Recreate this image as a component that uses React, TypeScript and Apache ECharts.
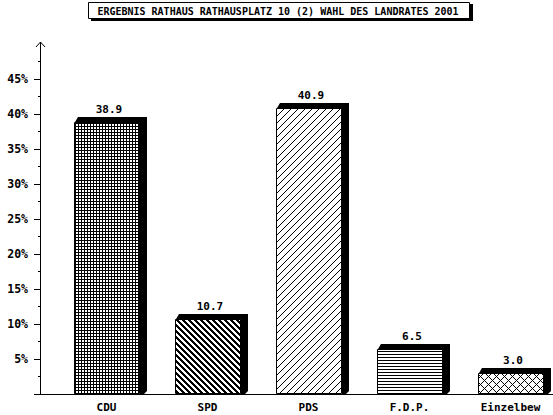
import React, { useEffect, useRef } from "react";
import * as echarts from "echarts";

const titleText = "ERGEBNIS RATHAUS RATHAUSPLATZ 10 (2) WAHL DES LANDRATES 2001";
const categories = ["CDU", "SPD", "PDS", "F.D.P.", "Einzelbew"];
const values = [38.9, 10.7, 40.9, 6.5, 3.0];
const valueLabels = ["38.9", "10.7", "40.9", "6.5", "3.0"];
const patternKinds = ["grid", "thickBack", "thinFwd", "hLines", "cross"];

const FONT = '"DejaVu Sans Mono", monospace';

// small black/white tiles, drawn pixel by pixel
const makePattern = (kind: string) => {
  const sizes: { [k: string]: number[] } = {
    grid: [3, 3],
    thickBack: [6, 6],
    thinFwd: [7, 7],
    hLines: [3, 3],
    cross: [8, 8],
  };
  const [w, h] = sizes[kind];
  const on = (x: number, y: number) => {
    if (kind === "grid") return x === 0 || y === 0;
    if (kind === "thickBack") return (((x - y) % 6) + 6) % 6 < 3;
    if (kind === "thinFwd") return (x + y) % 7 === 0;
    if (kind === "hLines") return y === 0;
    return (x + y) % 8 === 0 || (((x - y) % 8) + 8) % 8 === 0;
  };
  const c = document.createElement("canvas");
  c.width = w;
  c.height = h;
  const ctx = c.getContext("2d")!;
  ctx.fillStyle = "#fff";
  ctx.fillRect(0, 0, w, h);
  ctx.fillStyle = "#000";
  for (let y = 0; y < h; y++) {
    for (let x = 0; x < w; x++) {
      if (on(x, y)) ctx.fillRect(x, y, 1, 1);
    }
  }
  return { image: c, repeat: "repeat", imageWidth: w, imageHeight: h };
};

const App = () => {
  const chartRef = useRef<HTMLDivElement>(null);

  useEffect(() => {
    const chart = echarts.init(chartRef.current, null, { renderer: "svg" });
    const patterns = patternKinds.map(makePattern);

    const options = {
      animation: false,
      backgroundColor: "#fff",
      // the last band runs a little past the window's right edge
      grid: { left: 56, width: 505, top: 44, bottom: 21 },
      xAxis: {
        type: "category",
        data: categories,
        axisLine: { show: false },
        axisTick: { show: false },
        axisLabel: {
          margin: 8,
          color: "#000",
          fontFamily: FONT,
          fontWeight: "bold",
          fontSize: 11,
        },
      },
      yAxis: {
        type: "value",
        min: 0,
        max: 50,
        interval: 5,
        offset: 16,
        axisLine: { show: true, lineStyle: { color: "#000", width: 1 } },
        axisTick: { show: true, length: 6, lineStyle: { color: "#000" } },
        minorTick: {
          show: true,
          splitNumber: 2,
          length: 2,
          lineStyle: { color: "#000" },
        },
        splitLine: { show: false },
        axisLabel: {
          margin: 12,
          color: "#000",
          fontFamily: FONT,
          fontWeight: "bold",
          fontSize: 11.5,
          formatter: (v: number) => (v === 0 || v === 50 ? "" : v + "%"),
        },
      },
      series: [
        {
          type: "custom",
          data: values.map((v, i) => [i, v]),
          renderItem: (params: any, api: any) => {
            const idx = params.dataIndex;
            const top = api.coord([api.value(0), api.value(1)]);
            const base = api.coord([api.value(0), 0]);
            const bw = api.size([1, 0])[0] * 0.65;
            const x0 = Math.round(top[0] - bw / 2);
            const x1 = x0 + Math.round(bw);
            const yt = Math.round(top[1]);
            const yb = Math.round(base[1]);
            return {
              type: "group",
              children: [
                {
                  type: "polygon",
                  shape: {
                    points: [
                      [x0 + 1, yt],
                      [x0 + 4, yt - 5],
                      [x1 + 7, yt - 5],
                      [x1 + 7, yb - 3],
                      [x1 + 4, yb],
                      [x1, yb],
                    ],
                  },
                  style: { fill: "#000" },
                },
                {
                  type: "rect",
                  shape: { x: x0 + 0.5, y: yt + 0.5, width: x1 - x0 - 1, height: yb - yt - 1 },
                  style: { fill: patterns[idx], stroke: "#000", lineWidth: 1 },
                },
                {
                  type: "text",
                  x: (x0 + x1) / 2 + 2,
                  y: yt - 13,
                  style: {
                    text: valueLabels[idx],
                    fill: "#000",
                    font: `bold 11px ${FONT}`,
                    align: "center",
                    verticalAlign: "middle",
                  },
                },
              ],
            };
          },
        },
      ],
      graphic: [
        // hide the tick at the top of the axis, under the arrow
        { type: "rect", z: 100, shape: { x: 32, y: 42, width: 8, height: 4 }, style: { fill: "#fff" } },
        {
          type: "polyline",
          z: 101,
          shape: { points: [[36, 47], [40.5, 42], [45, 47]] },
          style: { stroke: "#000", lineWidth: 1, fill: null },
        },
        {
          type: "line",
          z: 101,
          shape: { x1: 40.5, y1: 42, x2: 40.5, y2: 46 },
          style: { stroke: "#000", lineWidth: 1 },
        },
        {
          type: "line",
          z: 101,
          shape: { x1: 40, y1: 394.5, x2: 562, y2: 394.5 },
          style: { stroke: "#000", lineWidth: 1 },
        },
        // title box with its shadow
        { type: "rect", z: 100, shape: { x: 91, y: 4, width: 382, height: 17 }, style: { fill: "#000" } },
        {
          type: "rect",
          z: 101,
          shape: { x: 88.5, y: 2.5, width: 381, height: 16 },
          style: { fill: "#fff", stroke: "#000", lineWidth: 1 },
        },
        {
          type: "text",
          z: 102,
          x: 278,
          y: 11,
          style: {
            text: titleText,
            fill: "#000",
            font: `bold 10px ${FONT}`,
            align: "center",
            verticalAlign: "middle",
          },
        },
      ],
    };

    chart.setOption(options as any);
    return () => chart.dispose();
  }, []);

  return (
    <div
      ref={chartRef}
      style={{ position: "fixed", left: 0, top: 0, width: 562, height: 415 }}
    />
  );
};

export default App;
